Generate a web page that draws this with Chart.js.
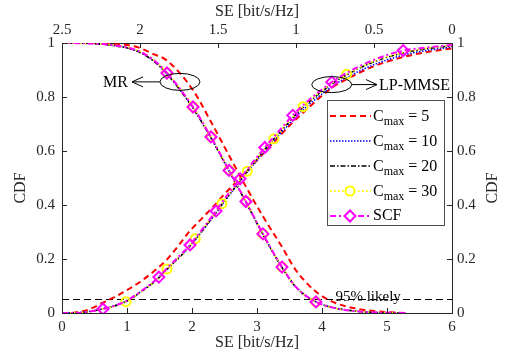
<!DOCTYPE html>
<html>
<head>
<meta charset="utf-8">
<script src="https://cdn.jsdelivr.net/npm/chart.js@4.4.0/dist/chart.umd.min.js"></script>
<style>
  html, body { margin: 0; padding: 0; background: #fff; }
</style>
</head>
<body>
<canvas id="cdfChart" width="506" height="356"></canvas>
<script>
// LP-MMSE curves (bottom axis, SE in bit/s/Hz)
const lpSE     = [0.0, 0.2, 0.4, 0.63, 0.8, 0.985, 1.2, 1.49, 1.615, 1.8, 1.97, 2.05, 2.37, 2.46, 2.74, 2.85, 3.12, 3.26, 3.55, 3.71, 4.15, 4.38, 4.8, 5.25, 5.6, 6.0];
const lpCmax5  = [0, 0.002, 0.012, 0.038, 0.058, 0.083, 0.115, 0.17, 0.198, 0.252, 0.305, 0.325, 0.405, 0.43, 0.5, 0.527, 0.597, 0.633, 0.706, 0.742, 0.834, 0.866, 0.914, 0.948, 0.966, 0.98];
const lpCmax10 = [0, 0.001, 0.005, 0.016, 0.027, 0.044, 0.077, 0.132, 0.163, 0.206, 0.248, 0.271, 0.37, 0.4, 0.487, 0.521, 0.6, 0.638, 0.714, 0.753, 0.838, 0.872, 0.92, 0.955, 0.972, 0.985];
const lpCmax20 = [0, 0.0, 0.004, 0.015, 0.025, 0.042, 0.075, 0.13, 0.162, 0.205, 0.248, 0.272, 0.372, 0.403, 0.49, 0.525, 0.606, 0.645, 0.722, 0.762, 0.848, 0.882, 0.93, 0.963, 0.978, 0.99];
const lpCmax30 = [0, 0.0, 0.004, 0.015, 0.025, 0.042, 0.075, 0.13, 0.163, 0.207, 0.25, 0.275, 0.375, 0.405, 0.492, 0.525, 0.607, 0.645, 0.724, 0.764, 0.85, 0.884, 0.932, 0.965, 0.98, 0.991];
const lpSCF    = [0, 0.0, 0.004, 0.015, 0.026, 0.044, 0.078, 0.133, 0.166, 0.21, 0.252, 0.277, 0.378, 0.41, 0.497, 0.532, 0.613, 0.652, 0.732, 0.77, 0.855, 0.889, 0.938, 0.972, 0.983, 0.993];
const lpCirc   = [5, 8, 11, 13, 15, 17, 19, 21];
const lpDiam   = [3, 7, 10, 12, 14, 16, 18, 20, 23];

// MR curves (top axis, reversed)
const mrSE     = [0.3, 0.5, 0.6, 0.75, 0.872, 1.0, 1.09, 1.212, 1.321, 1.429, 1.545, 1.66, 1.827, 1.917, 2.02, 2.2, 2.35, 2.5];
const mrCmax5  = [0, 0.007, 0.015, 0.038, 0.079, 0.158, 0.245, 0.358, 0.468, 0.583, 0.708, 0.825, 0.935, 0.96, 0.985, 0.997, 1, 1];
const mrCmax10 = [0, 0.002, 0.006, 0.019, 0.042, 0.097, 0.17, 0.292, 0.412, 0.527, 0.65, 0.76, 0.886, 0.936, 0.971, 0.993, 0.999, 1];
const mrCmax20 = [0, 0.002, 0.006, 0.018, 0.041, 0.095, 0.168, 0.29, 0.41, 0.525, 0.648, 0.758, 0.885, 0.935, 0.97, 0.993, 0.999, 1];
const mrCmax30 = [0, 0.002, 0.006, 0.018, 0.041, 0.096, 0.17, 0.293, 0.414, 0.53, 0.653, 0.764, 0.89, 0.94, 0.974, 0.994, 0.999, 1];
const mrSCF    = [0, 0.002, 0.006, 0.018, 0.041, 0.096, 0.17, 0.293, 0.413, 0.528, 0.652, 0.763, 0.889, 0.939, 0.973, 0.994, 0.999, 1];
const mrMarks  = [4, 6, 7, 8, 9, 10, 11, 12];

const likelyCDF = 0.05;
const likelySpan = [0, 6];

const axisColor = '#262626';
const serif = '"Liberation Serif", "Times New Roman", serif';

const styles = {
  c5:  { color: '#ff0000', width: 2,   dash: [6, 4] },
  c10: { color: '#0000ff', width: 1.5, dash: [1.5, 1.5] },
  c20: { color: '#000000', width: 1.5, dash: [5, 2, 1.5, 2] },
  c30: { color: '#ffff00', width: 1.8, dash: [1.5, 2.5], marker: 'circle', r: 4.5 },
  scf: { color: '#ff00ff', width: 2,   dash: [6, 3, 2, 3], marker: 'rectRot', r: 5.5 }
};

const legendItems = [
  { key: 'c5',  label: '5' },
  { key: 'c10', label: '10' },
  { key: 'c20', label: '20' },
  { key: 'c30', label: '30' },
  { key: 'scf', label: 'SCF' }
];

function pts(xs, ys) {
  return xs.map((v, i) => ({ x: v, y: ys[i] }));
}

function makeSet(xs, ys, key, axis, marks, order) {
  const st = styles[key];
  return {
    data: pts(xs, ys),
    xAxisID: axis,
    yAxisID: 'y',
    borderColor: st.color,
    borderWidth: st.width,
    borderDash: st.dash,
    cubicInterpolationMode: 'monotone',
    fill: false,
    order: order,
    pointStyle: st.marker || 'circle',
    pointRadius: ctx => (st.marker && marks.includes(ctx.dataIndex)) ? st.r : 0,
    pointBorderColor: st.color,
    pointBackgroundColor: 'rgba(0,0,0,0)',
    pointBorderWidth: 2
  };
}

const datasets = [
  makeSet(lpSE, lpCmax5,  'c5',  'x', [], 5),
  makeSet(lpSE, lpCmax10, 'c10', 'x', [], 4),
  makeSet(lpSE, lpCmax20, 'c20', 'x', [], 3),
  makeSet(lpSE, lpCmax30, 'c30', 'x', lpCirc, 2),
  makeSet(lpSE, lpSCF,    'scf', 'x', lpDiam, 1),
  makeSet(mrSE, mrCmax5,  'c5',  'x2', [], 5),
  makeSet(mrSE, mrCmax10, 'c10', 'x2', [], 4),
  makeSet(mrSE, mrCmax20, 'c20', 'x2', [], 3),
  makeSet(mrSE, mrCmax30, 'c30', 'x2', mrMarks, 2),
  makeSet(mrSE, mrSCF,    'scf', 'x2', mrMarks, 1),
  {
    data: likelySpan.map(v => ({ x: v, y: likelyCDF })),
    xAxisID: 'x', yAxisID: 'y',
    borderColor: '#000', borderWidth: 1, borderDash: [7, 4],
    pointRadius: 0, order: 6
  }
];

const tickFont = { family: serif, size: 15 };
const titleFont = { family: serif, size: 16, lineHeight: 1 };
const fmt = v => String(Number(v.toFixed(1)));

function axisBase(extra) {
  return Object.assign({
    type: 'linear',
    grid: { display: false, drawTicks: false },
    border: { display: true, color: axisColor, width: 1 }
  }, extra);
}

// drawing helpers for the overlay
function drawArrow(ctx, x0, x1, y) {
  const dir = x1 > x0 ? 1 : -1;
  ctx.beginPath();
  ctx.moveTo(x0, y);
  ctx.lineTo(x1, y);
  ctx.moveTo(x1 - dir * 11, y - 5);
  ctx.lineTo(x1, y);
  ctx.lineTo(x1 - dir * 11, y + 5);
  ctx.stroke();
}

const overlay = {
  id: 'overlay',
  afterDraw(chart) {
    const ctx = chart.ctx;
    const { x, x2, y } = chart.scales;
    const a = chart.chartArea;
    ctx.save();

    // inward tick marks
    ctx.strokeStyle = axisColor;
    ctx.lineWidth = 1;
    ctx.setLineDash([]);
    ctx.beginPath();
    x.ticks.forEach(t => {
      const p = Math.round(x.getPixelForValue(t.value)) + 0.5;
      ctx.moveTo(p, a.bottom); ctx.lineTo(p, a.bottom - 5);
    });
    x2.ticks.forEach(t => {
      const p = Math.round(x2.getPixelForValue(t.value)) + 0.5;
      ctx.moveTo(p, a.top); ctx.lineTo(p, a.top + 5);
    });
    y.ticks.forEach(t => {
      const p = Math.round(y.getPixelForValue(t.value)) + 0.5;
      ctx.moveTo(a.left, p); ctx.lineTo(a.left + 5, p);
      ctx.moveTo(a.right, p); ctx.lineTo(a.right - 5, p);
    });
    ctx.stroke();

    // y axis titles
    ctx.fillStyle = axisColor;
    ctx.font = '16px ' + serif;
    ctx.textAlign = 'center';
    ctx.textBaseline = 'middle';
    [21, 493].forEach(cx => {
      ctx.save();
      ctx.translate(cx, 188);
      ctx.rotate(-Math.PI / 2);
      ctx.fillText('CDF', 0, 0);
      ctx.restore();
    });

    // ellipses, arrows and labels
    ctx.strokeStyle = '#000';
    ctx.fillStyle = '#000';
    const mrX = x.getPixelForValue(1.815), mrY = y.getPixelForValue(0.856);
    ctx.beginPath();
    ctx.ellipse(mrX, mrY, 20, 8.5, 0, 0, Math.PI * 2);
    ctx.stroke();
    drawArrow(ctx, mrX - 20, x.getPixelForValue(1.077), mrY);
    ctx.textAlign = 'right';
    ctx.fillText('MR', x.getPixelForValue(1.015), mrY + 1);

    const lpX = x.getPixelForValue(4.15), lpY = y.getPixelForValue(0.846);
    ctx.beginPath();
    ctx.ellipse(lpX, lpY, 20, 8, 0, 0, Math.PI * 2);
    ctx.stroke();
    drawArrow(ctx, lpX + 20, x.getPixelForValue(4.846), lpY);
    ctx.textAlign = 'left';
    ctx.fillText('LP-MMSE', x.getPixelForValue(4.877), lpY + 1);

    ctx.font = '15px ' + serif;
    ctx.textAlign = 'center';
    ctx.textBaseline = 'alphabetic';
    ctx.fillText('95% likely', x.getPixelForValue(4.71), y.getPixelForValue(likelyCDF) + 1);

    // legend
    const L = { left: 327, top: 100, right: 444, bottom: 225 };
    ctx.fillStyle = '#fff';
    ctx.fillRect(L.left, L.top, L.right - L.left, L.bottom - L.top);
    ctx.strokeStyle = '#4d4d4d';
    ctx.lineWidth = 1;
    ctx.strokeRect(L.left + 0.5, L.top + 0.5, L.right - L.left, L.bottom - L.top);
    legendItems.forEach((it, i) => {
      const st = styles[it.key];
      const ly = L.top + 16 + i * 25;
      ctx.save();
      ctx.strokeStyle = st.color;
      ctx.lineWidth = st.width;
      ctx.setLineDash(st.dash);
      ctx.beginPath();
      ctx.moveTo(330, ly); ctx.lineTo(371, ly);
      ctx.stroke();
      ctx.setLineDash([]);
      if (st.marker) {
        ctx.lineWidth = 2;
        ctx.fillStyle = '#fff';
        Chart.helpers.drawPoint(ctx, { pointStyle: st.marker, radius: st.r, rotation: 0, borderWidth: 2 }, 350, ly);
      }
      ctx.restore();
      ctx.fillStyle = '#000';
      ctx.textAlign = 'left';
      if (it.key === 'scf') {
        ctx.font = '16px ' + serif;
        ctx.textBaseline = 'middle';
        ctx.fillText('SCF', 373, ly);
      } else {
        ctx.font = '16px ' + serif;
        ctx.textBaseline = 'alphabetic';
        ctx.fillText('C', 373, ly + 5);
        const cw = ctx.measureText('C').width;
        ctx.font = '12px ' + serif;
        ctx.fillText('max', 373 + cw, ly + 9);
        const mw = ctx.measureText('max').width;
        ctx.font = '16px ' + serif;
        ctx.fillText('= ' + it.label, 373 + cw + mw + 4, ly + 5);
      }
    });

    ctx.restore();
  }
};

new Chart(document.getElementById('cdfChart'), {
  type: 'line',
  data: { datasets: datasets },
  options: {
    responsive: false,
    animation: false,
    events: [],
    layout: { padding: 0 },
    plugins: { legend: { display: false }, tooltip: { enabled: false } },
    scales: {
      x: axisBase({
        position: 'bottom', min: 0, max: 6,
        ticks: { stepSize: 1, autoSkip: false, maxRotation: 0, color: axisColor, font: tickFont, padding: 5, callback: fmt },
        title: { display: true, text: 'SE [bit/s/Hz]', color: axisColor, font: titleFont, padding: { top: 0, bottom: 5 } },
        afterFit: s => { s.height = 43; }
      }),
      x2: axisBase({
        position: 'top', min: 0, max: 2.5, reverse: true,
        ticks: { stepSize: 0.5, autoSkip: false, maxRotation: 0, color: axisColor, font: tickFont, padding: 4, callback: fmt },
        title: { display: true, text: 'SE [bit/s/Hz]', color: axisColor, font: titleFont, padding: { top: 4, bottom: 0 } },
        afterFit: s => { s.height = 43; }
      }),
      y: axisBase({
        position: 'left', min: 0, max: 1,
        ticks: { stepSize: 0.2, autoSkip: false, color: axisColor, font: tickFont, padding: 7, callback: fmt },
        afterFit: s => { s.width = 62; }
      }),
      y2: axisBase({
        position: 'right', min: 0, max: 1,
        ticks: { stepSize: 0.2, autoSkip: false, color: axisColor, font: tickFont, padding: 5, callback: fmt },
        afterFit: s => { s.width = 54; }
      })
    }
  },
  plugins: [overlay]
});
</script>
</body>
</html>
